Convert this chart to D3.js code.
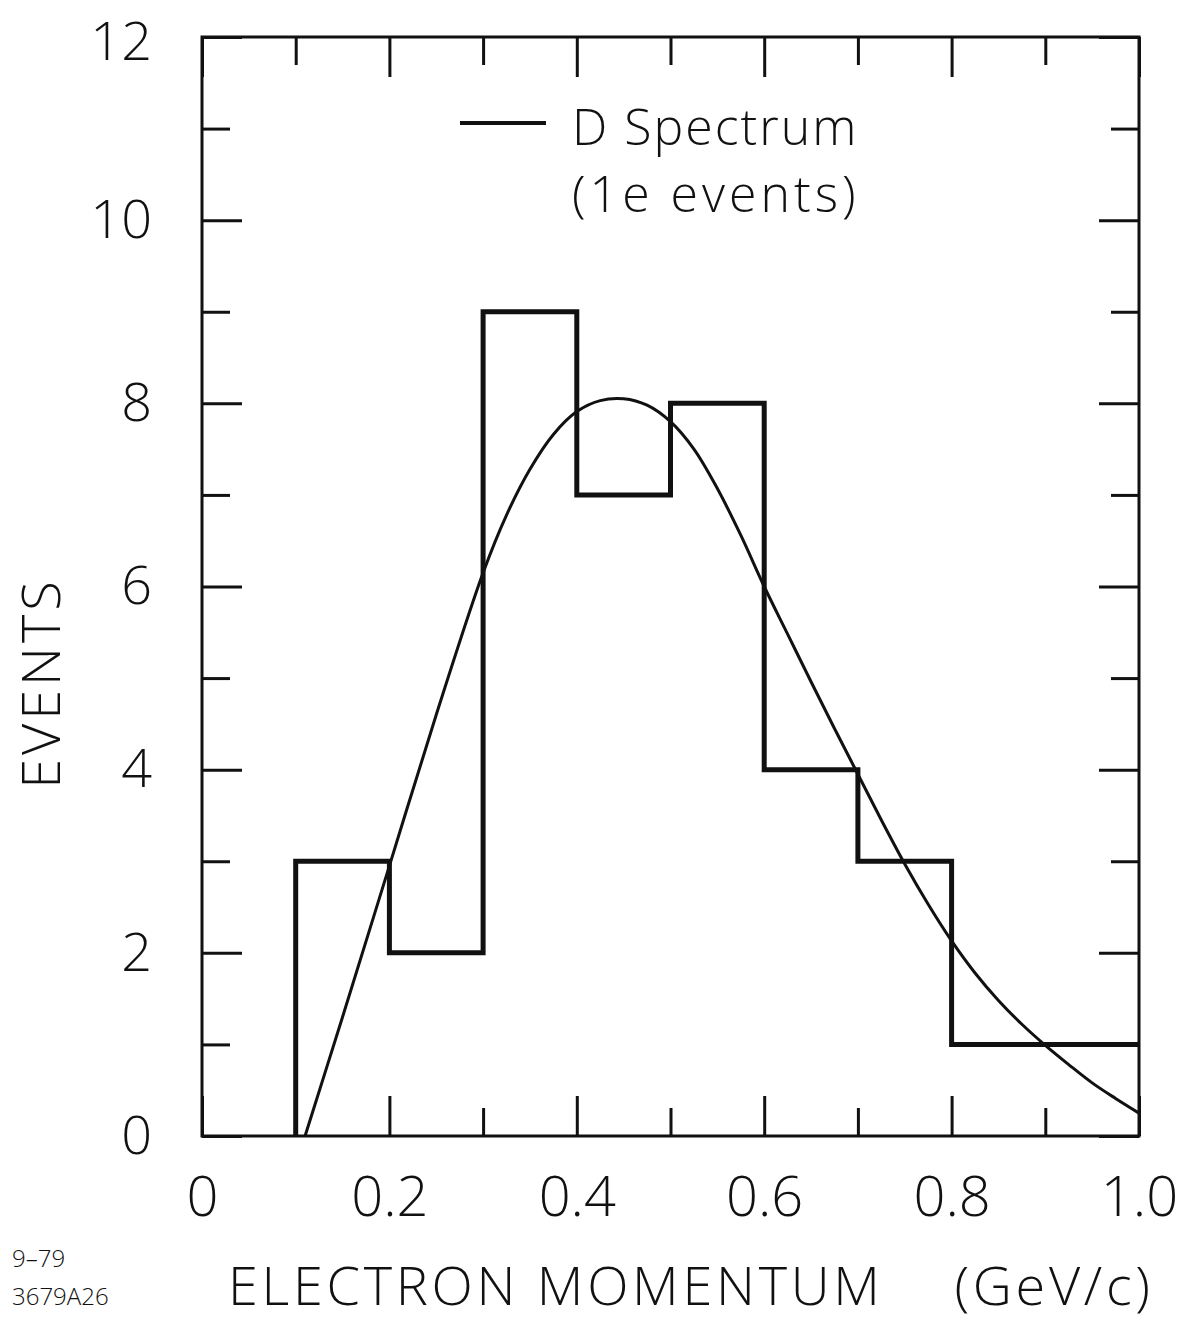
<!DOCTYPE html>
<html>
<head>
    <meta charset="utf-8">
    <title>Electron momentum</title>
    <script src="https://d3js.org/d3.v7.min.js"></script>
    <style>
        body { margin: 0; background: #fff; }
        text { font-family: "Open Sans", "Liberation Sans", sans-serif; font-weight: 300; fill: #111; }
    </style>
</head>
<body>
    <svg id="chart" width="1195" height="1325"></svg>
    <script>
        // histogram bins (GeV/c) and counts
        const binEdges = [0.1, 0.2, 0.3, 0.4, 0.5, 0.6, 0.7, 0.8, 0.9, 1.0];
        const binCounts = [3, 2, 9, 7, 8, 4, 3, 1, 1];

        // D spectrum curve
        const curveP = [0.11, 0.15, 0.2, 0.25, 0.3, 0.325, 0.35, 0.375, 0.4, 0.425, 0.45, 0.475, 0.5, 0.525, 0.55, 0.575, 0.6, 0.625, 0.65, 0.675, 0.7, 0.725, 0.75, 0.775, 0.8, 0.825, 0.85, 0.875, 0.9, 0.925, 0.95, 0.975, 1.0];
        const curveN = [0, 1.3, 2.95, 4.6, 6.15, 6.78, 7.28, 7.66, 7.91, 8.03, 8.05, 7.98, 7.8, 7.5, 7.07, 6.56, 6.0, 5.48, 4.96, 4.45, 3.95, 3.45, 2.97, 2.53, 2.13, 1.78, 1.48, 1.22, 0.99, 0.78, 0.58, 0.41, 0.25];

        const xMajor = [0, 0.2, 0.4, 0.6, 0.8, 1.0];
        const xMinor = [0.1, 0.3, 0.5, 0.7, 0.9];
        const xLabels = ["0", "0.2", "0.4", "0.6", "0.8", "1.0"];
        const yMajor = [0, 2, 4, 6, 8, 10, 12];
        const yMinor = [1, 3, 5, 7, 9, 11];

        const svg = d3.select("#chart");
        const pLeft = 202, pRight = 1139, pTop = 37, pBottom = 1136;

        const x = d3.scaleLinear().domain([0, 1]).range([pLeft, pRight]);
        const y = d3.scaleLinear().domain([0, 12]).range([pBottom, pTop]);

        const big = 40, small = 28;

        // ticks on all four sides, pointing inward
        function ticks(axis, tr, vals, size, fmt, pad) {
            const g = svg.append("g")
                .attr("transform", tr)
                .call(axis.tickValues(vals).tickSize(-size).tickPadding(pad || 0)
                    .tickFormat(fmt || (() => "")));
            g.select(".domain").remove();
            g.selectAll(".tick line").attr("stroke", "#111").attr("stroke-width", 3);
            return g;
        }

        const xb = ticks(d3.axisBottom(x), `translate(0,${pBottom})`, xMajor, big, (d, i) => xLabels[i], 40);
        xb.selectAll("text").attr("font-size", 56).attr("fill", "#111");
        ticks(d3.axisBottom(x), `translate(0,${pBottom})`, xMinor, small);
        ticks(d3.axisTop(x), `translate(0,${pTop})`, xMajor, big);
        ticks(d3.axisTop(x), `translate(0,${pTop})`, xMinor, small);

        const yl = ticks(d3.axisLeft(y), `translate(${pLeft},0)`, yMajor, big, d => d, 50);
        yl.selectAll("text").attr("font-size", 54).attr("fill", "#111");
        // the top label sits against the page edge; nudge it down a touch
        yl.selectAll("text").filter(d => d === 12).attr("dy", "0.42em");
        ticks(d3.axisLeft(y), `translate(${pLeft},0)`, yMinor, small);
        ticks(d3.axisRight(y), `translate(${pRight},0)`, yMajor, big);
        ticks(d3.axisRight(y), `translate(${pRight},0)`, yMinor, small);

        // frame
        svg.append("rect")
            .attr("x", pLeft).attr("y", pTop)
            .attr("width", pRight - pLeft).attr("height", pBottom - pTop)
            .attr("fill", "none").attr("stroke", "#111").attr("stroke-width", 3);

        // histogram outline
        const histPts = [[binEdges[0], 0]];
        binCounts.forEach((c, i) => {
            histPts.push([binEdges[i], c]);
            histPts.push([binEdges[i + 1], c]);
        });
        svg.append("path")
            .attr("d", d3.line().x(d => x(d[0])).y(d => y(d[1]))(histPts))
            .attr("fill", "none")
            .attr("stroke", "#111")
            .attr("stroke-width", 5)
            .attr("stroke-linejoin", "miter");

        // D spectrum curve
        svg.append("path")
            .attr("d", d3.line()
                .x((d, i) => x(curveP[i]))
                .y(d => y(d))
                .curve(d3.curveCatmullRom.alpha(0.5))(curveN))
            .attr("fill", "none")
            .attr("stroke", "#111")
            .attr("stroke-width", 3);

        // legend
        svg.append("line")
            .attr("x1", 460).attr("x2", 546).attr("y1", 123).attr("y2", 123)
            .attr("stroke", "#111").attr("stroke-width", 4);
        svg.append("text").attr("x", 572).attr("y", 145)
            .attr("font-size", 50).attr("letter-spacing", 2).text("D Spectrum");
        svg.append("text").attr("x", 572).attr("y", 212)
            .attr("font-size", 50).attr("letter-spacing", 4).text("(1e events)");

        // axis titles
        svg.append("text")
            .attr("transform", "translate(60,683) rotate(-90)")
            .attr("text-anchor", "middle")
            .attr("font-size", 54).attr("letter-spacing", 4)
            .text("EVENTS");
        svg.append("text")
            .attr("x", 228).attr("y", 1305)
            .attr("font-size", 54)
            .attr("textLength", 922)
            .attr("xml:space", "preserve")
            .text("ELECTRON MOMENTUM    (GeV/c)");

        // plate id
        svg.append("text").attr("x", 12).attr("y", 1267)
            .attr("font-size", 24).attr("font-weight", 400).attr("fill", "#000").text("9\u201379");
        svg.append("text").attr("x", 12).attr("y", 1305)
            .attr("font-size", 24).attr("font-weight", 400).attr("fill", "#000").text("3679A26");
    </script>
</body>
</html>
